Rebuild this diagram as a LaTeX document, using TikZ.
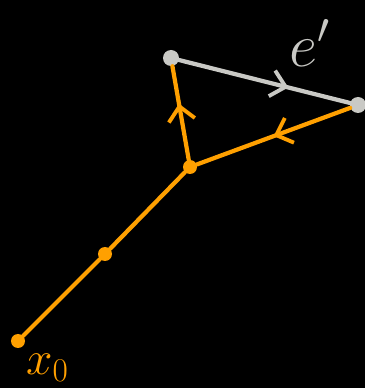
\RequirePackage{fix-cm}
\documentclass[tikz,border=0pt]{standalone}
\usepackage{tikz}
\usetikzlibrary{arrows.meta,decorations.markings,backgrounds}
\definecolor{PathOrange}{HTML}{FFA000}
\definecolor{EdgeGrey}{HTML}{C9C9C5}

\begin{document}
\begin{tikzpicture}[
    background rectangle/.style={fill=black},
    show background rectangle,
    inner frame sep=0pt,
    vertex/.style={
      circle,
      fill=#1,
      inner sep=0pt,
      minimum size=0.28cm
    },
    walk/.style={
      line width=2.4pt,
      color=#1,
      line cap=round,
      postaction={decorate}
    },
    midarrow/.style={
      decoration={markings,
        mark=at position #1 with {\arrow[line width=2.2pt]{Straight Barb[length=8pt,width=15pt]}}}
    },
    tag/.style={
      text=#1,
      inner sep=0pt
    }
  ]

  \useasboundingbox (0,0) rectangle (7.3,7.76);

  \node[vertex=PathOrange]      (start) at (0.36,0.94) {};
  \node[vertex=PathOrange]      (mid)   at (2.10,2.68) {};
  \node[vertex=PathOrange]      (fork)  at (3.80,4.42) {};
  \node[vertex=EdgeGrey,minimum size=0.32cm] (top)   at (3.42,6.60) {};
  \node[vertex=EdgeGrey,minimum size=0.32cm] (right) at (7.16,5.66) {};

  \draw[walk=PathOrange] (start) -- (mid);
  \draw[walk=PathOrange] (mid) -- (fork);
  \draw[walk=PathOrange,midarrow=0.6] (fork) -- (top);
  \draw[walk=PathOrange,midarrow=0.5] (right) -- (fork);
  \draw[walk=EdgeGrey,midarrow=0.64] (top) -- (right);

  \node[tag=EdgeGrey,font=\fontsize{35}{40}\selectfont]   (elabel) at (6.2,6.9) {$e'$};
  \node[tag=PathOrange,font=\fontsize{27}{32}\selectfont] (xlabel) at (0.95,0.4) {$x_0$};

\end{tikzpicture}
\end{document}
